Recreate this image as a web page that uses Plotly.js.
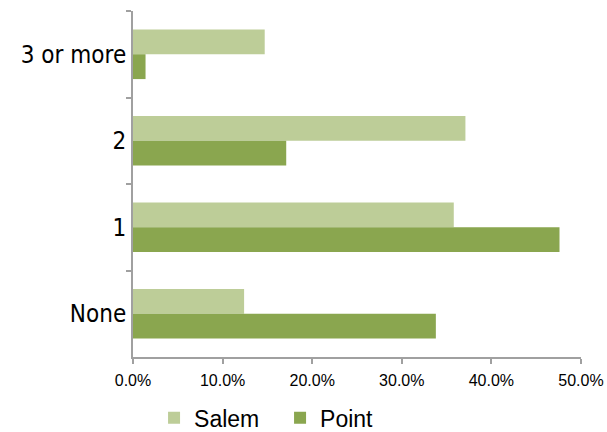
<!DOCTYPE html>
<html>
<head>
<meta charset="utf-8">
<script src="https://cdn.plot.ly/plotly-3.0.1.min.js"></script>
<style>
  html, body { margin: 0; padding: 0; background: #fff; }
  #chart { width: 607px; height: 432px; }
  /* narrow face for the category labels */
  #chart .ytick text { font-stretch: condensed; }
</style>
</head>
<body>
<div id="chart"></div>
<script>
// Number of items, listed top to bottom
const categories = ["3 or more", "2", "1", "None"];
// Share of respondents (fraction) per location
const salemValues = [0.147, 0.371, 0.358, 0.124];
const pointValues = [0.014, 0.171, 0.476, 0.338];
const seriesNames = ["Salem", "Point"];
const xTickValues = [0, 0.1, 0.2, 0.3, 0.4, 0.5];

const axisGray = "#a0a0a0";
const labelFont = "DejaVu Sans, sans-serif";
const plainFont = "Liberation Sans, Arial, sans-serif";

const traces = [
  {
    type: "bar",
    orientation: "h",
    name: seriesNames[0],
    y: categories,
    x: salemValues,
    marker: { color: "#bdcd98" },
    hoverinfo: "skip"
  },
  {
    type: "bar",
    orientation: "h",
    name: seriesNames[1],
    y: categories,
    x: pointValues,
    marker: { color: "#8aa64f" },
    hoverinfo: "skip"
  }
];

const layout = {
  width: 607,
  height: 432,
  margin: { l: 133, r: 26, t: 11, b: 75, pad: 0, autoexpand: false },
  paper_bgcolor: "#ffffff",
  plot_bgcolor: "#ffffff",
  barmode: "group",
  bargap: 0.426,
  bargroupgap: 0,
  showlegend: true,
  legend: {
    orientation: "h",
    x: 0.047,
    xanchor: "left",
    y: -0.176,
    yanchor: "middle",
    font: { family: plainFont, size: 23, color: "#000000" },
    entrywidth: 81,
    entrywidthmode: "pixels",
    itemclick: false,
    itemdoubleclick: false
  },
  xaxis: {
    range: [0, 0.5],
    tickvals: xTickValues,
    tickformat: ".1%",
    showgrid: false,
    zeroline: false,
    showline: true,
    linecolor: axisGray,
    linewidth: 2,
    ticks: "outside",
    ticklen: 5,
    tickwidth: 2,
    tickcolor: axisGray,
    ticklabelstandoff: 3,
    tickfont: { family: plainFont, size: 16, color: "#000000" },
    fixedrange: true
  },
  yaxis: {
    type: "category",
    categoryorder: "array",
    categoryarray: categories,
    autorange: "reversed",
    tickson: "boundaries",
    showgrid: false,
    zeroline: false,
    showline: true,
    linecolor: axisGray,
    linewidth: 2,
    ticks: "outside",
    ticklen: 5,
    tickwidth: 2,
    tickcolor: axisGray,
    tickfont: { family: labelFont, size: 24, color: "#000000" },
    fixedrange: true
  }
};

Plotly.newPlot("chart", traces, layout, { displayModeBar: false, staticPlot: true });
</script>
</body>
</html>
